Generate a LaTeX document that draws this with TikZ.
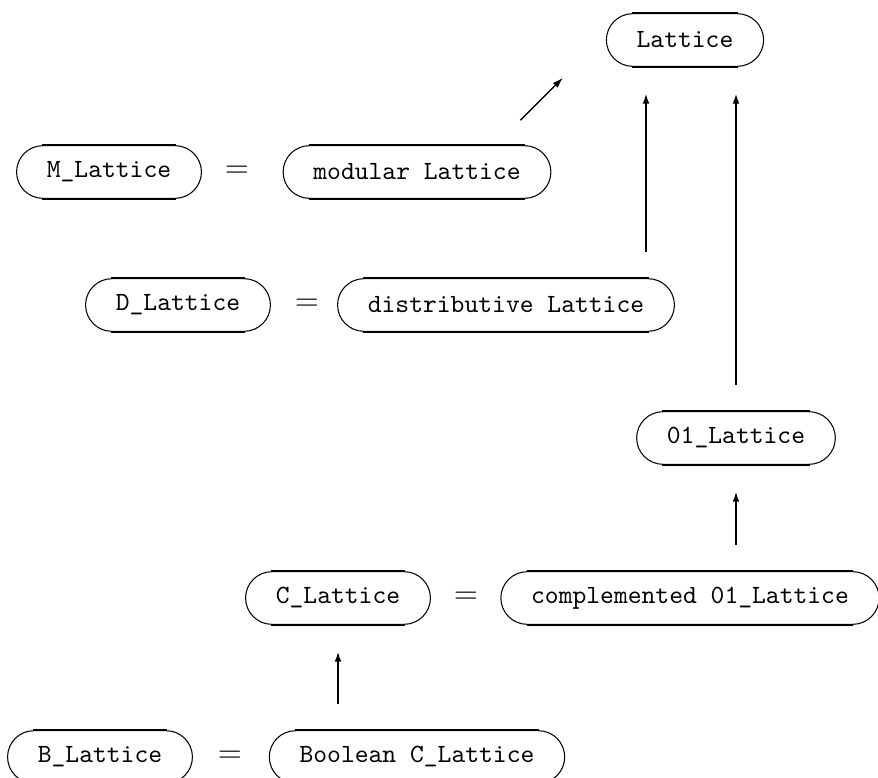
\documentclass[tikz,border=0pt]{standalone}
\usetikzlibrary{positioning, calc, arrows.meta}
\begin{document}
\begin{tikzpicture}[x=0.38pt, y=-0.38pt,
                        latnode/.style={rectangle, draw, thin, rounded corners=10pt, minimum height=20pt, inner xsep=11.5pt, font=\ttfamily},
                        eqnode/.style={inner sep=0pt, font=\fontsize{11.5}{13}\selectfont},
                        isarrow/.style={-{Latex[length=4pt,width=2.6pt]}, line width=1pt, shorten <=10pt, shorten >=10pt},
                        ]
        \useasboundingbox (0,0) rectangle (878,778);
        %Nodes
        \node[latnode]  (Lat)      at (685,40)   {Lattice};

        \node[latnode]  (MLat)     at (109,172)  {M\_Lattice};
        \node[eqnode]   (EqM)      at (237,172)  {$=$};
        \node[latnode]  (ModLat)   at (417,172)  {modular Lattice};

        \node[latnode]  (DLat)     at (178,305)  {D\_Lattice};
        \node[eqnode]   (EqD)      at (307,305)  {$=$};
        \node[latnode]  (DistLat)  at (506,305)  {distributive Lattice};

        \node[latnode]  (ZeroLat)  at (736,438)  {01\_Lattice};

        \node[latnode]  (CLat)     at (338,598)  {C\_Lattice};
        \node[eqnode]   (EqC)      at (466,598)  {$=$};
        \node[latnode]  (CompLat)  at (690,598)  {complemented 01\_Lattice};

        \node[latnode]  (BLat)     at (100,757)  {B\_Lattice};
        \node[eqnode]   (EqB)      at (230,757)  {$=$};
        \node[latnode]  (BoolLat)  at (417,757)  {Boolean C\_Lattice};

        %Thick top and bottom edges
        \foreach \n in {Lat, MLat, ModLat, DLat, DistLat, ZeroLat, CLat, CompLat, BLat, BoolLat}{
            \draw[line width=1pt] ([xshift=10pt]\n.north west) -- ([xshift=-10pt]\n.north east);
            \draw[line width=1pt] ([xshift=10pt]\n.south west) -- ([xshift=-10pt]\n.south east);
        }

        %Lines
        \coordinate (ModTip)   at ($(ModLat.north east)+(-31,-25)$);
        \coordinate (LatTip)   at ($(Lat.south west)+(-43,11)$);
        \draw[-{Latex[length=4pt,width=2.6pt]}, line width=0.5pt] (ModTip) -- (LatTip);

        \coordinate (DistTop)  at ([xshift=-11pt]DistLat.north east);
        \draw[isarrow] (DistTop) -- (DistTop |- Lat.south);
        \draw[isarrow] (ZeroLat.north) -- (ZeroLat.north |- Lat.south);
        \draw[isarrow] (ZeroLat.south |- CompLat.north) -- (ZeroLat.south);
        \draw[isarrow] (CLat.south |- BoolLat.north) -- (CLat.south);
    \end{tikzpicture}
\end{document}
